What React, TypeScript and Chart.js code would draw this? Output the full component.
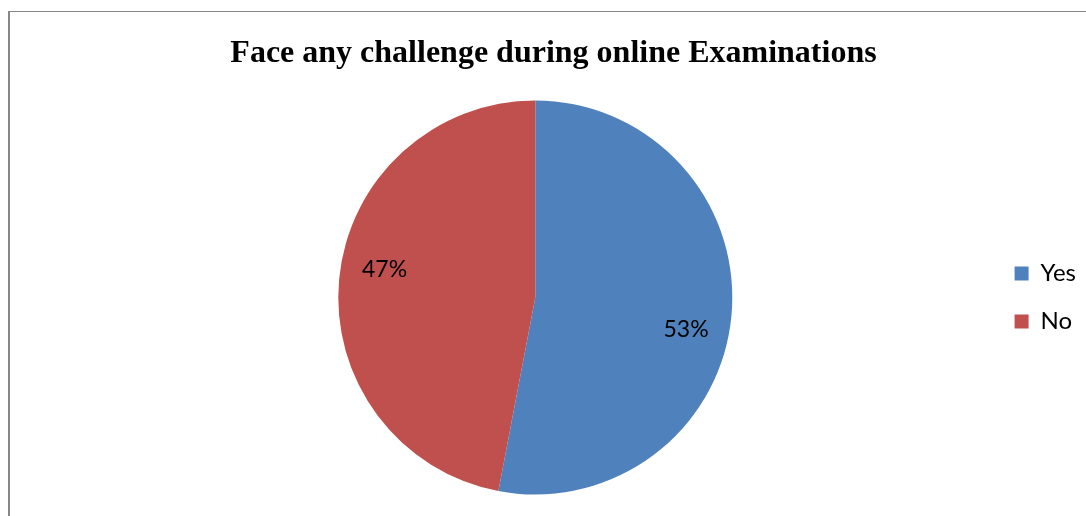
import React, { useEffect, useRef } from "react";
import { Chart, registerables } from "chart.js";

Chart.register(...registerables);

const title = "Face any challenge during online Examinations";
const categories = ["Yes", "No"];
const shares = [53, 47];
const colors = ["#4F81BD", "#C0504D"];

const pieLabels = {
  id: "pieLabels",
  afterDatasetsDraw(chart: any) {
    const ctx = chart.ctx;
    const meta = chart.getDatasetMeta(0);
    const data = chart.data.datasets[0].data as number[];
    const total = data.reduce((a, b) => a + b, 0);
    ctx.save();
    ctx.font = "23px Lato";
    ctx.fillStyle = "#000";
    ctx.textAlign = "center";
    ctx.textBaseline = "middle";
    meta.data.forEach((arc: any, i: number) => {
      const p = arc.getProps(["x", "y", "startAngle", "endAngle", "outerRadius"], true);
      const mid = (p.startAngle + p.endAngle) / 2 + 0.1;
      const r = p.outerRadius * 0.78;
      const tx = p.x + Math.cos(mid) * r;
      const ty = p.y + Math.sin(mid) * r + 2;
      ctx.fillText(Math.round((data[i] / total) * 100) + "%", tx, ty);
    });
    ctx.restore();
  },
};

export default function App() {
  const ref = useRef<HTMLCanvasElement>(null);
  useEffect(() => {
    if (!ref.current) return;
    const chart = new Chart(ref.current, {
      type: "pie",
      data: {
        labels: categories,
        datasets: [
          {
            data: shares,
            backgroundColor: colors,
            borderWidth: 0,
            radius: 197,
          } as any,
        ],
      },
      options: {
        animation: false,
        responsive: false,
        maintainAspectRatio: false,
        layout: { padding: { top: 84, bottom: 5, left: 80, right: 0 } },
        plugins: {
          title: { display: false },
          tooltip: { enabled: false },
          legend: {
            position: "right",
            align: "center",
            labels: {
              boxWidth: 14,
              boxHeight: 14,
              padding: 24,
              color: "#000",
              font: { family: "Lato", size: 24 },
            },
          },
        },
      },
      plugins: [pieLabels],
    });
    return () => chart.destroy();
  }, []);

  return (
    <div
      style={{
        position: "fixed",
        left: 0,
        top: 0,
        width: 1086,
        height: 516,
        overflow: "hidden",
        background: "#fff",
      }}
    >
      <div
        style={{
          position: "absolute",
          left: 8,
          top: 11,
          width: 1200,
          height: 700,
          borderLeft: "2px solid #878787",
          borderTop: "1px solid #878787",
          boxSizing: "border-box",
        }}
      />
      <canvas
        ref={ref}
        width={1086}
        height={516}
        style={{ position: "absolute", left: 0, top: 0, width: 1086, height: 516 }}
      />
      <div
        style={{
          position: "absolute",
          left: 0,
          top: 33,
          width: 1107,
          textAlign: "center",
          fontFamily: "'Liberation Serif', 'Times New Roman', serif",
          fontWeight: "bold",
          fontSize: 32,
          color: "#000",
          whiteSpace: "nowrap",
        }}
      >
        {title}
      </div>
    </div>
  );
}
